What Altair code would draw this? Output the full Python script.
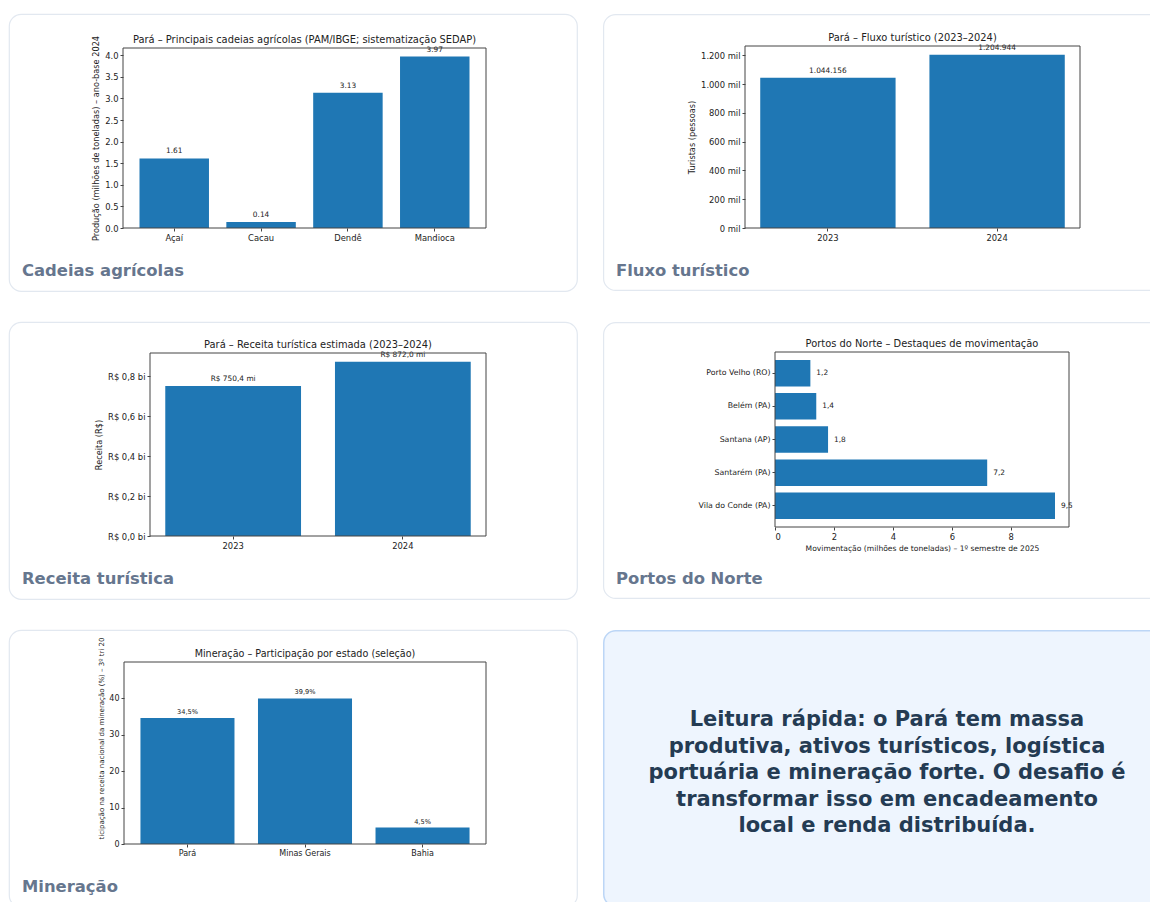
import altair as alt
import pandas as pd

FONT = "DejaVu Sans"
BAR = "#1f77b4"
CARD_STROKE = "#e2e8f0"
CAP_COLOR = "#66768e"
TXT = "#222222"
FRAME = "#444444"

# ---------------- data ----------------
agri_cat = ["Açaí", "Cacau", "Dendê", "Mandioca"]
agri_val = [1.61, 0.14, 3.13, 3.97]
agri_lbl = ["1.61", "0.14", "3.13", "3.97"]
agri_ticks = [0.0, 0.5, 1.0, 1.5, 2.0, 2.5, 3.0, 3.5, 4.0]

tur_cat = ["2023", "2024"]
tur_val = [1044156, 1204944]
tur_lbl = ["1.044.156", "1.204.944"]
tur_ticks = [0, 200000, 400000, 600000, 800000, 1000000, 1200000]

rec_cat = ["2023", "2024"]
rec_val = [750.4e6, 872.0e6]
rec_lbl = ["R$ 750,4 mi", "R$ 872,0 mi"]
rec_ticks = [0, 0.2e9, 0.4e9, 0.6e9, 0.8e9]

port_cat = ["Porto Velho (RO)", "Belém (PA)", "Santana (AP)", "Santarém (PA)", "Vila do Conde (PA)"]
port_val = [1.2, 1.4, 1.8, 7.2, 9.5]
port_lbl = ["1,2", "1,4", "1,8", "7,2", "9,5"]
port_ticks = [0, 2, 4, 6, 8]

min_cat = ["Pará", "Minas Gerais", "Bahia"]
min_val = [34.5, 39.9, 4.5]
min_lbl = ["34,5%", "39,9%", "4,5%"]
min_ticks = [0, 10, 20, 30, 40]

titles = [
    "Pará – Principais cadeias agrícolas (PAM/IBGE; sistematização SEDAP)",
    "Pará – Fluxo turístico (2023–2024)",
    "Pará – Receita turística estimada (2023–2024)",
    "Portos do Norte – Destaques de movimentação",
    "Mineração – Participação por estado (seleção)",
]
axis_titles = [
    "Produção (milhões de toneladas) – ano-base 2024",
    "Turistas (pessoas)",
    "Receita (R$)",
    "Movimentação (milhões de toneladas) – 1º semestre de 2025",
    "ticipação na receita nacional da mineração (%) – 3º tri 20",
]
captions = ["Cadeias agrícolas", "Fluxo turístico", "Receita turística", "Portos do Norte", "Mineração"]
info_lines = [
    "Leitura rápida: o Pará tem massa",
    "produtiva, ativos turísticos, logística",
    "portuária e mineração forte. O desafio é",
    "transformar isso em encadeamento",
    "local e renda distribuída.",
]

CARD_W = 568      # full card width
RIGHT_W = 547     # visible width of right-column cards (they run off the page)
CARD_H = 277
COL_GAP = 26
ROW_GAP = 31
TITLE_FS = 9.9
TICK_FS = 8.4
ATITLE_FS = 8.2
VAL_FS = 7.4

LEFT_VIEW = alt.ViewBackground(stroke=CARD_STROKE, strokeWidth=1.2, cornerRadius=12, fill="white")
RIGHT_VIEW = alt.ViewBackground(stroke="transparent", fill="transparent")


def deco_data():
    return alt.Data(values=[{"k": 1}])


def open_card(fill="transparent", stroke=CARD_STROKE, sw=1.2):
    # card whose right side runs past the page edge (clipped to the view)
    return alt.Chart(deco_data()).mark_rect(
        clip=True, fill=fill, stroke=stroke, strokeWidth=sw, cornerRadius=12
    ).encode(
        x=alt.value(sw / 2), x2=alt.value(CARD_W + 20),
        y=alt.value(sw / 2), y2=alt.value(CARD_H - sw / 2),
    )


def decorations(left, top, w, h, caption, title, title_fs=TITLE_FS):
    frame = alt.Chart(deco_data()).mark_rect(
        fill="transparent", stroke=FRAME, strokeWidth=1
    ).encode(
        x=alt.value(left), x2=alt.value(left + w),
        y=alt.value(top), y2=alt.value(top + h),
    )
    ttl = alt.Chart(deco_data()).mark_text(
        align="center", baseline="bottom", font=FONT, fontSize=title_fs, color=TXT
    ).encode(x=alt.value(left + w / 2), y=alt.value(top - 3), text=alt.value(title))
    cap = alt.Chart(deco_data()).mark_text(
        align="left", baseline="middle", font=FONT, fontSize=16.4,
        fontWeight="bold", color=CAP_COLOR
    ).encode(x=alt.value(13), y=alt.value(257), text=alt.value(caption))
    return [frame, ttl, cap]


def vbar_card(cats, vals, lbls, ymax, ticks, ytitle, left, top, w, h, caption, title,
              label_expr=None, fmt=None, tick_fs=TICK_FS, ttl_fs=ATITLE_FS,
              lbl_fs=VAL_FS, title_y=None, title_fs=TITLE_FS, right=False):
    df = pd.DataFrame({"cat": cats, "val": vals, "lbl": lbls})
    n = len(cats)
    po = 0.05 * (n - 0.2)
    x = alt.X("cat:N", sort=cats, title=None,
              scale=alt.Scale(paddingInner=0.2, paddingOuter=po, range=[left, left + w]),
              axis=alt.Axis(labelAngle=0, labelFontSize=tick_fs,
                            offset=-(CARD_H - top - h)))
    ax_kwargs = dict(values=ticks, title=ytitle, labelFontSize=tick_fs,
                     titleFontSize=ttl_fs, offset=-left)
    if label_expr:
        ax_kwargs["labelExpr"] = label_expr
    if fmt:
        ax_kwargs["format"] = fmt
    if title_y is not None:
        ax_kwargs["titleY"] = title_y
    y = alt.Y("val:Q",
              scale=alt.Scale(domain=[0, ymax], nice=False, zero=True, range=[top + h, top]),
              axis=alt.Axis(**ax_kwargs))
    bars = alt.Chart(df).mark_bar(color=BAR).encode(x=x, y=y)
    text = alt.Chart(df).mark_text(
        baseline="bottom", dy=-3, fontSize=lbl_fs, font=FONT, color=TXT
    ).encode(x=x, y=y, text="lbl:N")
    layers = [bars, text] + decorations(left, top, w, h, caption, title, title_fs)
    if right:
        return alt.layer(open_card(), *layers).properties(
            width=RIGHT_W, height=CARD_H, view=RIGHT_VIEW)
    return alt.layer(*layers).properties(width=CARD_W, height=CARD_H, view=LEFT_VIEW)


# Panel 1
p1 = vbar_card(agri_cat, agri_val, agri_lbl, 3.97 * 1.05, agri_ticks, axis_titles[0],
               114, 34, 363, 180, captions[0], titles[0], fmt=".1f")

# Panel 2
p2 = vbar_card(tur_cat, tur_val, tur_lbl, 1204944 * 1.05, tur_ticks, axis_titles[1],
               142, 32, 335, 182, captions[1], titles[1],
               label_expr="replace(format(datum.value / 1000, ',.0f'), ',', '.') + ' mil'",
               right=True)

# Panel 3
p3 = vbar_card(rec_cat, rec_val, rec_lbl, 872.0e6 * 1.05, rec_ticks, axis_titles[2],
               141, 31, 336, 183, captions[2], titles[2],
               label_expr="'R$ ' + replace(format(datum.value / 1e9, '.1f'), '.', ',') + ' bi'")

# Panel 4 (horizontal bars)
L4, T4, W4, H4 = 172, 30, 294, 175
df4 = pd.DataFrame({"cat": port_cat, "val": port_val, "lbl": port_lbl})
po4 = 0.05 * (len(port_cat) - 0.2)
y4 = alt.Y("cat:N", sort=port_cat, title=None,
           scale=alt.Scale(paddingInner=0.2, paddingOuter=po4, range=[T4, T4 + H4]),
           axis=alt.Axis(labelFontSize=7.8, offset=-L4))
x4 = alt.X("val:Q",
           scale=alt.Scale(domain=[0, 9.5 * 1.05], nice=False, zero=True, range=[L4, L4 + W4]),
           axis=alt.Axis(values=port_ticks, title=axis_titles[3], format="d",
                         labelFontSize=TICK_FS, titleFontSize=7.6,
                         offset=-(CARD_H - T4 - H4)))
bars4 = alt.Chart(df4).mark_bar(color=BAR).encode(x=x4, y=y4)
text4 = alt.Chart(df4).mark_text(
    align="left", baseline="middle", dx=6, fontSize=VAL_FS, font=FONT, color=TXT
).encode(x=x4, y=y4, text="lbl:N")
p4 = alt.layer(open_card(), bars4, text4,
               *decorations(L4, T4, W4, H4, captions[3], titles[3])).properties(
    width=RIGHT_W, height=CARD_H, view=RIGHT_VIEW
)

# Panel 5
p5 = vbar_card(min_cat, min_val, min_lbl, 39.9 * 1.25, min_ticks, axis_titles[4],
               115, 32, 362, 182, captions[4], titles[4], fmt="d",
               tick_fs=8, ttl_fs=7, lbl_fs=6.6, title_y=108, title_fs=9.6)

# Panel 6 (info card)
info_txt = alt.Chart(pd.DataFrame({"t": ["\n".join(info_lines)]})).mark_text(
    align="center", baseline="middle", font=FONT, fontSize=21, fontWeight="bold",
    color="#243b53", lineBreak="\n", lineHeight=26.5
).encode(x=alt.value(CARD_W / 2), y=alt.value(90), text="t:N")
p6 = alt.layer(
    open_card(fill="#eef5fe", stroke="#bcd6f6", sw=1.5), info_txt
).properties(width=RIGHT_W, height=CARD_H, view=RIGHT_VIEW)

chart = alt.concat(
    p1, p2, p3, p4, p5, p6, columns=2, bounds="flush",
    spacing=alt.RowColnumber(row=ROW_GAP, column=COL_GAP),
).properties(
    padding={"left": 0, "top": 5, "right": 0, "bottom": 0},
    background="white",
).configure_axis(
    labelFont=FONT, titleFont=FONT, labelColor=TXT, titleColor=TXT,
    titleFontWeight="normal", tickColor=FRAME, tickSize=3,
    domain=False, grid=False, labelPadding=2, titlePadding=4, zindex=1
)

chart.save("out.html", embed_options={"renderer": "svg", "actions": False})
